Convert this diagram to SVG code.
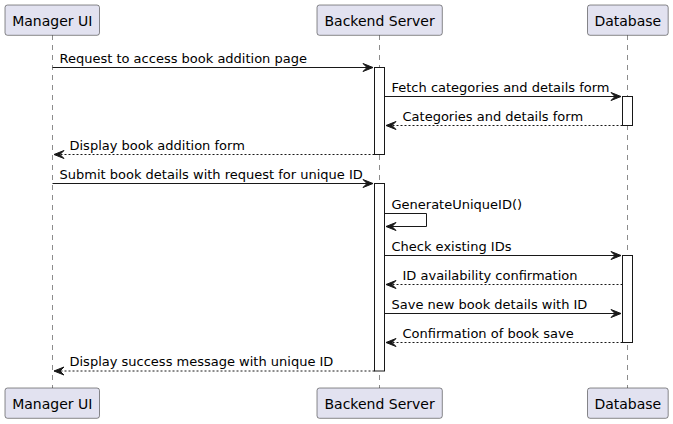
<svg xmlns="http://www.w3.org/2000/svg" width="673" height="424" viewBox="0 0 673 424">
<style>
.pbox{fill:#E2E2F0;stroke:#181818;stroke-width:0.5}
.pname{font-family:"DejaVu Sans",sans-serif;font-size:14px;fill:#000;text-anchor:middle}
.life{stroke:#181818;stroke-width:0.5;stroke-dasharray:5,5;fill:none}
.act{fill:#FFFFFF;stroke:#181818;stroke-width:1}
.msg{stroke:#181818;stroke-width:1;fill:none}
.ret{stroke:#181818;stroke-width:1;fill:none;stroke-dasharray:2,2}
.head{fill:#181818;stroke:#181818;stroke-width:1}
.lbl{font-family:"DejaVu Sans",sans-serif;font-size:13px;fill:#000}
</style>
<rect width="673" height="424" fill="#FFFFFF"/>
<g id="lifelines">
<line class="life" x1="52.5" y1="35" x2="52.5" y2="388"/>
<line class="life" x1="379.5" y1="35" x2="379.5" y2="388"/>
<line class="life" x1="627.5" y1="35" x2="627.5" y2="388"/>
</g>
<g id="manager-ui">
<rect class="pbox" x="5" y="5" width="94.5" height="30.3" rx="2.5"/>
<text class="pname" x="52.3" y="25.5">Manager UI</text>
<rect class="pbox" x="5" y="388" width="94.5" height="30.3" rx="2.5"/>
<text class="pname" x="52.3" y="408.5">Manager UI</text>
</g>
<g id="backend-server">
<rect class="pbox" x="317" y="5" width="125.3" height="30.3" rx="2.5"/>
<text class="pname" x="379.6" y="25.5">Backend Server</text>
<rect class="pbox" x="317" y="388" width="125.3" height="30.3" rx="2.5"/>
<text class="pname" x="379.6" y="408.5">Backend Server</text>
<rect class="act" x="374.5" y="67.5" width="10" height="87"/>
<rect class="act" x="374.5" y="183.5" width="10" height="187.5"/>
</g>
<g id="database">
<rect class="pbox" x="587.5" y="5" width="80.7" height="30.3" rx="2.5"/>
<text class="pname" x="627.8" y="25.5">Database</text>
<rect class="pbox" x="587.5" y="388" width="80.7" height="30.3" rx="2.5"/>
<text class="pname" x="627.8" y="408.5">Database</text>
<rect class="act" x="622.5" y="96.5" width="10" height="29"/>
<rect class="act" x="622.5" y="255.5" width="10" height="87"/>
</g>
<g id="connectors">
<line class="msg" x1="52.5" y1="67.5" x2="373" y2="67.5"/>
<polygon class="head" points="363,63.5 373,67.5 363,71.5 367,67.5"/>
<text class="lbl" x="59.5" y="62.5">Request to access book addition page</text>

<line class="msg" x1="384.5" y1="96.5" x2="621" y2="96.5"/>
<polygon class="head" points="611,92.5 621,96.5 611,100.5 615,96.5"/>
<text class="lbl" x="391.5" y="91.5">Fetch categories and details form</text>

<line class="ret" x1="622.5" y1="125.5" x2="386" y2="125.5"/>
<polygon class="head" points="396,121.5 386,125.5 396,129.5 392,125.5"/>
<text class="lbl" x="402.5" y="120.5">Categories and details form</text>

<line class="ret" x1="374.5" y1="154.5" x2="54" y2="154.5"/>
<polygon class="head" points="64,150.5 54,154.5 64,158.5 60,154.5"/>
<text class="lbl" x="69.5" y="149.5">Display book addition form</text>

<line class="msg" x1="52.5" y1="183.5" x2="373" y2="183.5"/>
<polygon class="head" points="363,179.5 373,183.5 363,187.5 367,183.5"/>
<text class="lbl" x="59.5" y="178.5">Submit book details with request for unique ID</text>

<polyline class="msg" points="384.5,213.5 426.5,213.5 426.5,226.5 386,226.5"/>
<polygon class="head" points="396,222.5 386,226.5 396,230.5 392,226.5"/>
<text class="lbl" x="391.5" y="208.5">GenerateUniqueID()</text>

<line class="msg" x1="384.5" y1="255.5" x2="621" y2="255.5"/>
<polygon class="head" points="611,251.5 621,255.5 611,259.5 615,255.5"/>
<text class="lbl" x="391.5" y="250.5">Check existing IDs</text>

<line class="ret" x1="622.5" y1="284.5" x2="386" y2="284.5"/>
<polygon class="head" points="396,280.5 386,284.5 396,288.5 392,284.5"/>
<text class="lbl" x="402.5" y="279.5">ID availability confirmation</text>

<line class="msg" x1="384.5" y1="313.5" x2="621" y2="313.5"/>
<polygon class="head" points="611,309.5 621,313.5 611,317.5 615,313.5"/>
<text class="lbl" x="391.5" y="308.5">Save new book details with ID</text>

<line class="ret" x1="622.5" y1="342.5" x2="386" y2="342.5"/>
<polygon class="head" points="396,338.5 386,342.5 396,346.5 392,342.5"/>
<text class="lbl" x="402.5" y="337.5">Confirmation of book save</text>

<line class="ret" x1="374.5" y1="371" x2="54" y2="371"/>
<polygon class="head" points="64,367 54,371 64,375 60,371"/>
<text class="lbl" x="69.5" y="366">Display success message with unique ID</text>
</g>
</svg>
